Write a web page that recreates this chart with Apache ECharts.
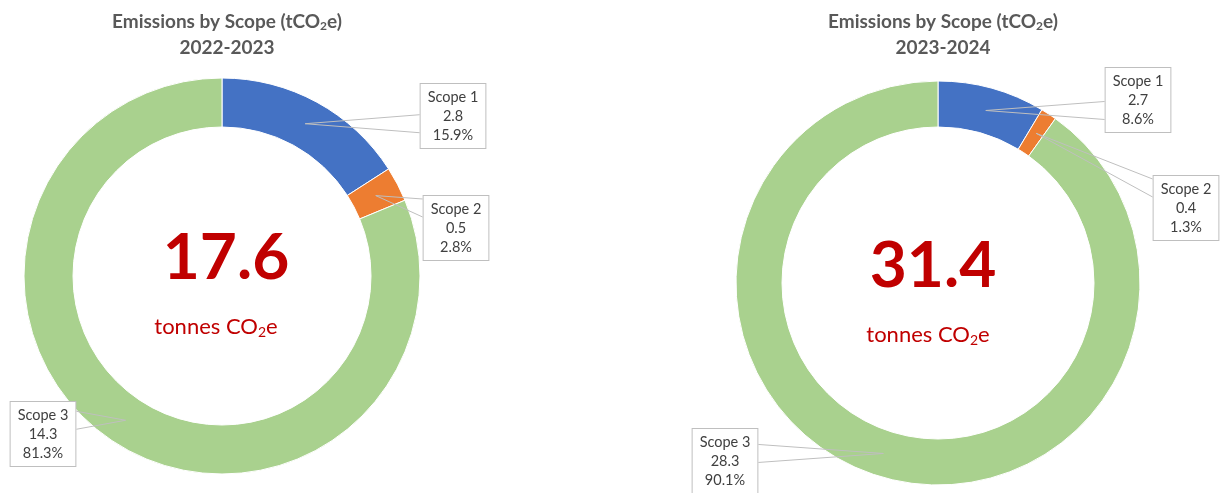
<!DOCTYPE html>
<html><head><meta charset="utf-8">
<script src="https://cdn.jsdelivr.net/npm/echarts@6/dist/echarts.min.js"></script>
<style>html,body{margin:0;padding:0;background:#fff}#c{width:1220px;height:493px}</style>
</head><body><div id="c"></div>
<script>
const categories = ['Scope 1', 'Scope 2', 'Scope 3'];
const years = ['2022-2023', '2023-2024'];
const values2223 = [2.8, 0.5, 14.3];
const values2324 = [2.7, 0.4, 28.3];
const pct2223 = ['15.9', '2.8', '81.3'];
const pct2324 = ['8.6', '1.3', '90.1'];
const totals = ['17.6', '31.4'];
const colors = ['#4472C4', '#ED7D31', '#A9D18E'];

const FONT = 'Lato, "Open Sans", sans-serif';
const chart = echarts.init(document.getElementById('c'));

// layout (pixels)
const pies = [
  {center: [222, 276], radius: [149, 198], labels: [[453, 84], [456, 196], [43, 402]], pct: pct2223, values: values2223, bigX: 226, subX: 216, bigY: 258, subY: 327},
  {center: [938, 283], radius: [156, 202], labels: [[1138, 68], [1186, 176], [725, 429]], pct: pct2324, values: values2324, bigX: 933, subX: 928, bigY: 266, subY: 335}
];

function anchorOf(p, idx) {
  const total = p.values.reduce((a, b) => a + b, 0);
  let cum = 0;
  for (let i = 0; i < idx; i++) cum += p.values[i];
  const th = 2 * Math.PI * (cum + p.values[idx] / 2) / total;
  const r = (p.radius[0] + p.radius[1]) / 2;
  return [p.center[0] + r * Math.sin(th), p.center[1] - r * Math.cos(th)];
}

function ringSeries(p) {
  return {
    type: 'pie', z: 2,
    center: p.center, radius: p.radius,
    startAngle: 90, clockwise: true,
    silent: true, animation: false,
    itemStyle: {borderColor: '#fff', borderWidth: 1},
    label: {show: false}, labelLine: {show: false},
    data: categories.map((c, i) => ({name: c, value: p.values[i], itemStyle: {color: colors[i]}}))
  };
}

function labelSeries(p) {
  return {
    type: 'pie', z: 5,
    center: p.center, radius: p.radius,
    startAngle: 90, clockwise: true,
    avoidLabelOverlap: false,
    silent: true, animation: false,
    itemStyle: {color: 'rgba(0,0,0,0)', borderWidth: 0},
    data: categories.map((c, i) => ({name: c, value: p.values[i]})),
    label: {
      show: true,
      formatter: (prm) => prm.name + '\n' + prm.value.toFixed(1) + '\n' + p.pct[prm.dataIndex] + '%',
      color: '#404040',
      fontFamily: FONT,
      fontSize: 14.5,
      lineHeight: 19,
      backgroundColor: '#fff',
      borderColor: '#bfbfbf',
      borderWidth: 1,
      padding: [4, 7, 3, 7],
      align: 'center'
    },
    labelLine: {show: true, length: 10, length2: 10, smooth: false, lineStyle: {color: '#bfbfbf', width: 1}},
    labelLayout: function (params) {
      const pos = p.labels[params.dataIndex];
      const w = params.labelRect.width, h = params.labelRect.height;
      const left = pos[0] - w / 2, right = pos[0] + w / 2, top = pos[1], bottom = pos[1] + h;
      const a = anchorOf(p, params.dataIndex);
      const ex = a[0] < left ? left : right;
      const yc = Math.min(Math.max(a[1], top + 12), bottom - 12);
      return {
        x: pos[0], y: pos[1], align: 'center', verticalAlign: 'top',
        labelLinePoints: [[ex, yc - 9], a, [ex, yc + 9]]
      };
    }
  };
}

const graphics = [];
pies.forEach((p, i) => {
  graphics.push({
    type: 'text', x: p.bigX, y: p.bigY,
    style: {text: totals[i], fill: '#C00000', font: 'bold 64px ' + FONT, textAlign: 'center', textVerticalAlign: 'middle'}
  });
  graphics.push({
    type: 'text', x: p.subX, y: p.subY,
    style: {
      text: '{a|tonnes CO}{s|2}{a|e}',
      textAlign: 'center', textVerticalAlign: 'middle',
      rich: {
        a: {fill: '#C00000', fontSize: 22, fontFamily: FONT},
        s: {fill: '#C00000', fontSize: 14, fontFamily: FONT, padding: [11, 0, 0, 0]}
      }
    }
  });
});

chart.setOption({
  animation: false,
  title: pies.map((p, i) => ({
    text: '{a|Emissions by Scope (tCO}{s|2}{a|e)}\n{a|' + years[i] + '}',
    left: p.center[0], top: 4, textAlign: 'center',
    textStyle: {
      lineHeight: 26,
      rich: {
        a: {color: '#595959', fontWeight: 'bold', fontSize: 19, fontFamily: FONT, lineHeight: 26},
        s: {color: '#595959', fontWeight: 'bold', fontSize: 12, fontFamily: FONT, padding: [9, 0, 0, 0]}
      }
    }
  })),
  series: pies.map(ringSeries).concat(pies.map(labelSeries)),
  graphic: graphics
});
</script></body></html>
